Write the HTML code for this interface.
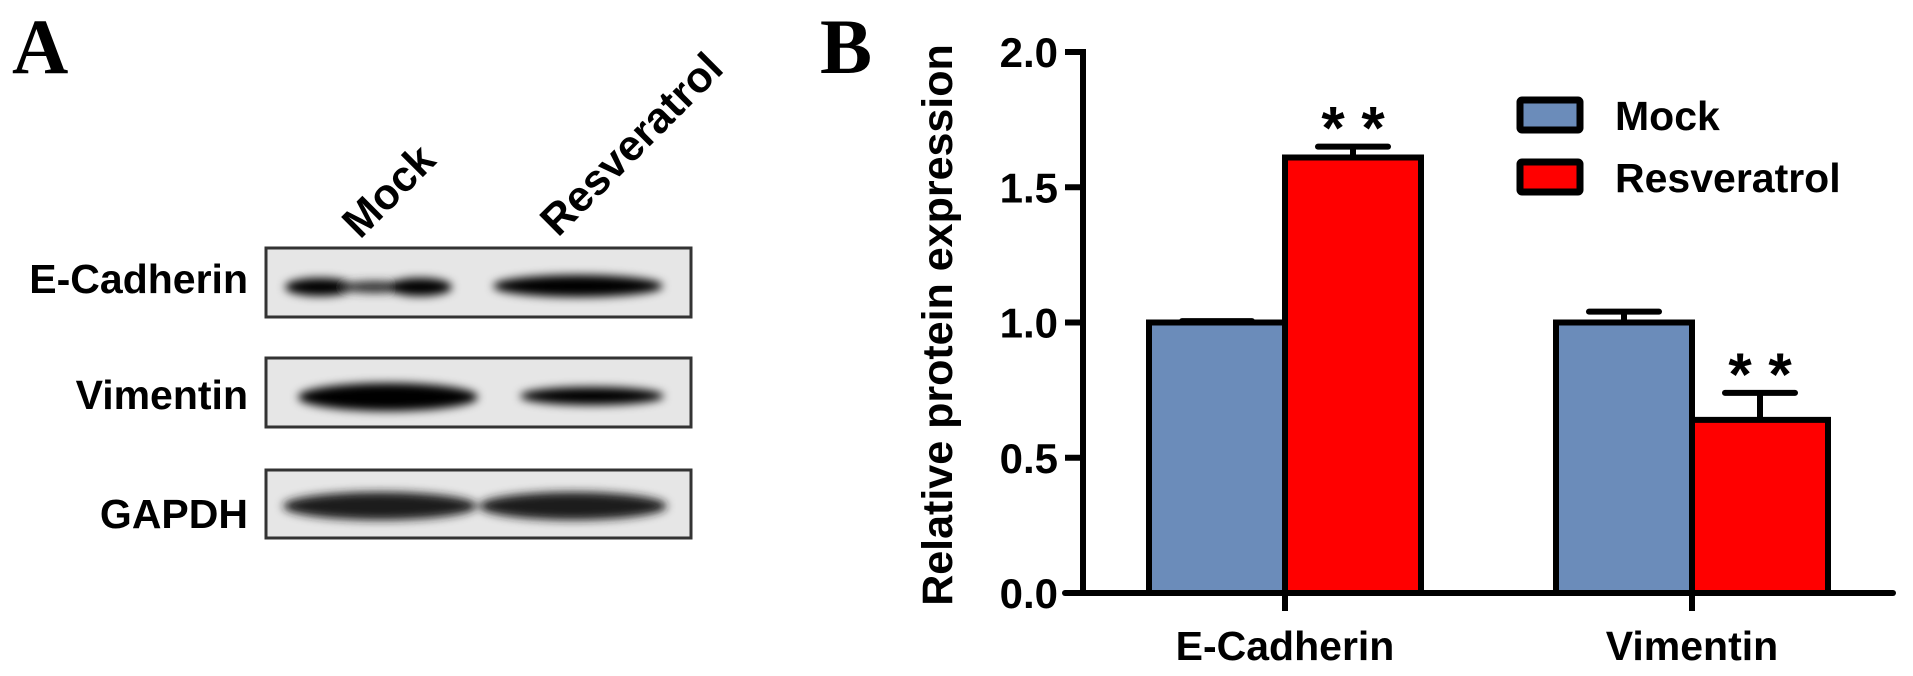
<!DOCTYPE html>
<html><head><meta charset="utf-8"><style>
html,body{margin:0;padding:0;background:#fff;width:1913px;height:676px;overflow:hidden}
svg{display:block}
text{font-family:"Liberation Sans",Arial,sans-serif;font-weight:bold;fill:#000}
.serif{font-family:"Liberation Serif","Times New Roman",serif}
</style></head><body>
<svg id="fig" width="1913" height="676" viewBox="0 0 1913 676" xmlns="http://www.w3.org/2000/svg">
<defs>
<filter id="blur" x="-20%" y="-100%" width="140%" height="300%"><feGaussianBlur stdDeviation="4.5"/></filter>
</defs>
<g>
<text class="serif" x="12" y="73" font-size="78">A</text>
<text x="0" y="0" font-size="43" transform="translate(360,240) rotate(-45)">Mock</text>
<text x="0" y="0" font-size="43" transform="translate(558,238) rotate(-45)">Resveratrol</text>
<text x="248" y="293" font-size="41" text-anchor="end">E-Cadherin</text>
<text x="248" y="409" font-size="41" text-anchor="end">Vimentin</text>
<text x="248" y="528" font-size="41" text-anchor="end">GAPDH</text>
<g>
<rect x="266" y="248" width="425" height="69" fill="#e6e6e6" stroke="#333" stroke-width="3"/>
<g filter="url(#blur)"><ellipse cx="320" cy="287" rx="35" ry="9" fill="#000"/><ellipse cx="375" cy="287" rx="35" ry="6" fill="#333"/><ellipse cx="420" cy="287" rx="32" ry="9" fill="#000"/><ellipse cx="578" cy="286" rx="85" ry="11" fill="#000"/></g>
</g>
<g>
<rect x="266" y="358" width="425" height="69" fill="#e6e6e6" stroke="#333" stroke-width="3"/>
<g filter="url(#blur)"><ellipse cx="388" cy="397" rx="90" ry="14" fill="#000"/><ellipse cx="592" cy="396" rx="72" ry="9" fill="#000"/></g>
</g>
<g>
<rect x="266" y="470" width="425" height="68" fill="#e6e6e6" stroke="#333" stroke-width="3"/>
<g filter="url(#blur)"><ellipse cx="380" cy="506" rx="97" ry="14" fill="#1a1a1a"/><ellipse cx="573" cy="506" rx="94" ry="14" fill="#1a1a1a"/></g>
</g>
</g>
<g id="panelB">
<text class="serif" x="820" y="73" font-size="78">B</text>
<text x="0" y="0" font-size="43" text-anchor="middle" transform="translate(952,325) rotate(-90)">Relative protein expression</text>
</g>
</svg>
<script>
const categories = ["E-Cadherin", "Vimentin"];
const seriesNames = ["Mock", "Resveratrol"];
const mockValues = [1.0, 1.0];
const mockErrors = [0.005, 0.04];
const resValues = [1.61, 0.64];
const resErrors = [0.04, 0.10];
const significance = ["* *", "* *"];
const yTicks = [0.0, 0.5, 1.0, 1.5, 2.0];
const yTickLabels = ["0.0", "0.5", "1.0", "1.5", "2.0"];

const NS = "http://www.w3.org/2000/svg";
const g = document.getElementById("panelB");
const y0 = 593, pxPerUnit = 270.5, axisX = 1083, axisEnd = 1893;
const catCenters = [1285, 1692], barW = 136;
function yScale(v){ return y0 - v * pxPerUnit; }
function xCat(i){ return catCenters[i]; }
function mk(tag, attrs){ const e = document.createElementNS(NS, tag); for (const k in attrs) e.setAttribute(k, attrs[k]); g.appendChild(e); return e; }

let ya = mk("line", {x1: axisX, y1: yScale(2.0) - 3, x2: axisX, y2: y0 + 3, stroke: "#000", "stroke-width": 6});


yTicks.forEach((t, i) => {
  const tk = mk("line", {x1: axisX - 18, y1: yScale(t), x2: axisX, y2: yScale(t), stroke: "#000", "stroke-width": 6});
  
  
  const lb = mk("text", {x: axisX - 25, y: yScale(t) + 15, "font-size": 42, "text-anchor": "end"});
  lb.textContent = yTickLabels[i];
  
  
});

categories.forEach((c, i) => {
  const cx = xCat(i);
  const mt = yScale(mockValues[i]);
  const me = mk("line", {x1: cx - barW/2, x2: cx - barW/2, y1: yScale(mockValues[i] + mockErrors[i]), y2: mt, stroke: "#000", "stroke-width": 6});
  
  
  const mc = mk("line", {x1: cx - barW/2 - 35, x2: cx - barW/2 + 35, y1: yScale(mockValues[i] + mockErrors[i]), y2: yScale(mockValues[i] + mockErrors[i]), stroke: "#000", "stroke-width": 6, "stroke-linecap": "round"});
  
  
  const mb = mk("rect", {x: cx - barW, y: mt, width: barW, height: y0 - mt, fill: "#6b8cba", stroke: "#000", "stroke-width": 6});
  
  
  const rt = yScale(resValues[i]);
  const ey = yScale(resValues[i] + resErrors[i]);
  const re = mk("line", {x1: cx + barW/2, x2: cx + barW/2, y1: ey, y2: rt, stroke: "#000", "stroke-width": 6});
  
  
  const rc = mk("line", {x1: cx + barW/2 - 35, x2: cx + barW/2 + 35, y1: ey, y2: ey, stroke: "#000", "stroke-width": 6, "stroke-linecap": "round"});
  
  
  const rb = mk("rect", {x: cx, y: rt, width: barW, height: y0 - rt, fill: "#ff0000", stroke: "#000", "stroke-width": 6});
  
  
  const st = mk("text", {x: cx + barW/2, y: ey + 2, "font-size": 60, "text-anchor": "middle"});
  st.textContent = significance[i];
  
  
  const xt = mk("line", {x1: cx, x2: cx, y1: y0, y2: y0 + 18, stroke: "#000", "stroke-width": 6});
  
  
  const xl = mk("text", {x: cx, y: 660, "font-size": 41, "text-anchor": "middle"});
  xl.textContent = c;
  
  
});
let xa = mk("line", {x1: axisX - 18, y1: y0, x2: axisEnd, y2: y0, stroke: "#000", "stroke-width": 6, "stroke-linecap": "round"});



const legColors = ["#6b8cba", "#ff0000"];
seriesNames.forEach((s, i) => {
  const yy = 100 + i * 62;
  const box = mk("rect", {x: 1520, y: yy, width: 60, height: 30, fill: legColors[i], stroke: "#000", "stroke-width": 7, rx: 2});
  
  
  const t = mk("text", {x: 1615, y: yy + 30, "font-size": 41});
  t.textContent = s;
  
  
});
</script>
</body></html>
